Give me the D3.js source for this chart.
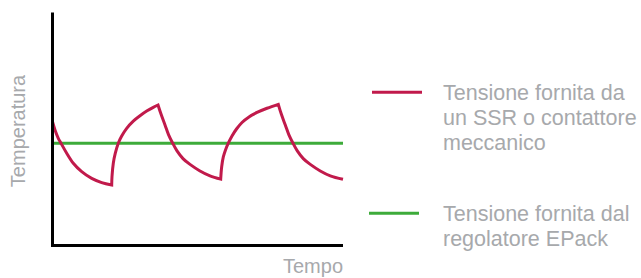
<!DOCTYPE html>
<html>
<head>
<meta charset="utf-8">
<script src="https://cdn.jsdelivr.net/npm/d3@7"></script>
<style>
  html, body { margin: 0; padding: 0; background: #fff; }
  svg { display: block; }
</style>
</head>
<body>
<svg id="chart" width="641" height="278"></svg>
<script>
// ---- Data (time 0-100, temperature 0-100, arbitrary units) ----
const ssrTime = [
  0, 0.86, 2.0, 2.93, 4.89, 7.16, 10.05, 13.49, 16.94, 20.38,                   // cooling 1
  20.48, 20.93, 21.62, 22.65, 23.82, 25.54, 27.81, 30.12, 32.43, 34.70, 36.32,  // heating 1
  37.35, 38.73, 39.93, 41.38, 42.86, 44.92, 47.33, 50.77, 54.22, 57.90,         // cooling 2
  58.24, 58.80, 59.55, 60.52, 61.79, 63.34, 65.23, 67.64, 70.40, 73.84, 77.73,  // heating 2
  78.76, 80.14, 81.34, 82.79, 84.27, 86.33, 88.74, 92.18, 95.63, 100            // cooling 3
];
const ssrTemp = [
  53.1, 49.6, 46.0, 43.9, 39.6, 35.3, 31.7, 28.8, 27.0, 26.0,
  29.5, 35.3, 39.6, 43.9, 47.0, 50.3, 53.4, 55.7, 57.7, 59.3, 60.3,
  56.4, 51.7, 47.6, 43.9, 40.6, 37.3, 34.8, 32.0, 29.9, 28.5,
  33.8, 38.0, 41.0, 43.9, 47.0, 50.0, 52.8, 55.2, 57.1, 58.9, 60.6,
  56.4, 51.7, 47.6, 43.9, 40.6, 37.3, 34.8, 32.0, 29.9, 28.4
];
// index where each cooling/heating phase ends (switching instants)
const ssrSwitchIdx = [9, 20, 30, 41, 51];
const epackTime = [0, 100];
const epackTemp = [43.9, 43.9];

const xTitle = "Tempo";
const yTitle = "Temperatura";
const legendLabels = [
  ["Tensione fornita da", "un SSR o contattore", "meccanico"],
  ["Tensione fornita dal", "regolatore EPack"]
];
const seriesColors = ["#c11a4b", "#3dab3a"];

// ---- Drawing ----
const svg = d3.select("#chart");
const x = d3.scaleLinear().domain([0, 100]).range([52.5, 343]);
const y = d3.scaleLinear().domain([0, 100]).range([245.5, 12.5]);

const textColor = "#a7a9ac";
const font = "'Liberation Sans', Arial, Helvetica, sans-serif";

// EPack line (green)
const line = d3.line().x(d => x(d[0])).y(d => y(d[1]));
svg.append("path")
  .attr("d", line(epackTime.map((t, i) => [t, epackTemp[i]])))
  .attr("fill", "none")
  .attr("stroke", seriesColors[1])
  .attr("stroke-width", 3);

// SSR curve (red), phase by phase to keep sharp switching cusps
const pts = ssrTime.map((t, i) => [t, ssrTemp[i]]);
const curveLine = d3.line().x(d => x(d[0])).y(d => y(d[1])).curve(d3.curveCatmullRom.alpha(0.5));
let dStr = "";
let start = 0;
ssrSwitchIdx.forEach((end, k) => {
  const seg = pts.slice(start, end + 1);
  let s = curveLine(seg);
  if (k > 0) s = "L" + s.slice(1);
  dStr += s;
  start = end;
});
svg.append("path")
  .attr("d", dStr)
  .attr("fill", "none")
  .attr("stroke", seriesColors[0])
  .attr("stroke-width", 3)
  .attr("stroke-linejoin", "miter");

// Axes (plain lines, no ticks)
svg.append("path")
  .attr("d", `M${x(0)},${y(100)}L${x(0)},${y(0)}L${x(100)},${y(0)}`)
  .attr("fill", "none")
  .attr("stroke", "#000")
  .attr("stroke-width", 3)
  .attr("stroke-linejoin", "miter");

// Axis titles
svg.append("text")
  .attr("x", x(100))
  .attr("y", 273)
  .attr("text-anchor", "end")
  .attr("font-family", font)
  .attr("font-size", 20)
  .attr("fill", textColor)
  .text(xTitle);

svg.append("text")
  .attr("transform", `translate(25,131) rotate(-90)`)
  .attr("text-anchor", "middle")
  .attr("font-family", font)
  .attr("font-size", 20)
  .attr("fill", textColor)
  .text(yTitle);

// Legend
const legendY = [92.3, 213.3];
const legendLineX = [[372, 422], [369, 419]];
const legendTextBase = [100, 221];
legendLabels.forEach((lines, i) => {
  svg.append("line")
    .attr("x1", legendLineX[i][0]).attr("x2", legendLineX[i][1])
    .attr("y1", legendY[i]).attr("y2", legendY[i])
    .attr("stroke", seriesColors[i])
    .attr("stroke-width", 3);
  const t = svg.append("text")
    .attr("font-family", font)
    .attr("font-size", 21.5)
    .attr("fill", textColor);
  lines.forEach((ln, j) => {
    t.append("tspan")
      .attr("x", 443)
      .attr("y", legendTextBase[i] + j * 25)
      .text(ln);
  });
});
</script>
</body>
</html>
